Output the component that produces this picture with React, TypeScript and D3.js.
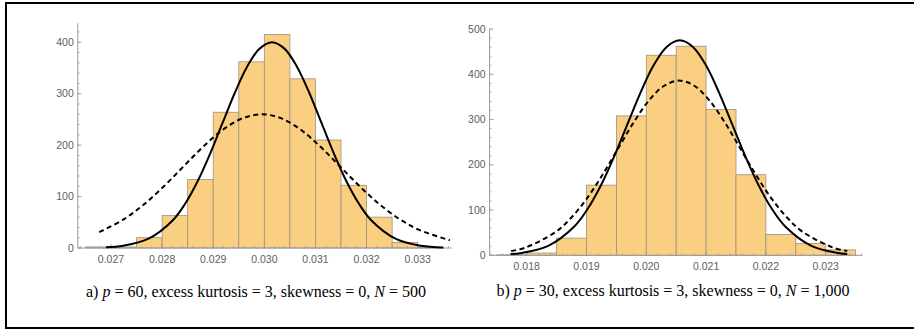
import React from 'react'
import * as d3 from 'd3'

// panel a) p = 60, N = 500
const leftBinEdges = [0.0265, 0.027, 0.0275, 0.028, 0.0285, 0.029, 0.0295, 0.030, 0.0305, 0.031, 0.0315, 0.032, 0.0325, 0.033, 0.0335]
const leftCounts = [2, 2, 20, 63, 133, 264, 362, 415, 329, 210, 122, 60, 11, 1]
const leftXTicks = [0.027, 0.028, 0.029, 0.030, 0.031, 0.032, 0.033]
const leftYTicks = [0, 100, 200, 300, 400]
const leftSolid: [number, number][] = [
  [0.0269, 1.5], [0.02724, 4.4], [0.027725, 17.6], [0.02821, 54.1], [0.028453, 86.5],
  [0.028695, 129.9], [0.028938, 183.1], [0.02918, 242.6], [0.029423, 301.9], [0.029665, 353.0],
  [0.029908, 387.7], [0.03015, 400], [0.030393, 387.7], [0.030635, 353.0], [0.030878, 301.9],
  [0.03112, 242.6], [0.031363, 183.1], [0.031605, 129.9], [0.031848, 86.5], [0.03209, 54.1],
  [0.032575, 17.6], [0.03306, 4.4], [0.0335, 1.0],
]
const leftDashed: [number, number][] = [
  [0.02677, 30.8], [0.027255, 56.2], [0.02764, 84.4], [0.028025, 119], [0.02841, 157.7],
  [0.028795, 196.2], [0.02918, 229.4], [0.029565, 252], [0.02995, 260], [0.030335, 252],
  [0.03072, 229.4], [0.031105, 196.2], [0.03149, 157.7], [0.031875, 119], [0.03226, 84.4],
  [0.032645, 56.2], [0.03303, 35.2], [0.03363, 15.0],
]

// panel b) p = 30, N = 1,000
const rightBinEdges = [0.0175, 0.018, 0.0185, 0.019, 0.0195, 0.020, 0.0205, 0.021, 0.0215, 0.022, 0.0225, 0.023, 0.0235]
const rightCounts = [1, 5, 38, 155, 308, 442, 462, 322, 178, 46, 26, 12]
const rightXTicks = [0.018, 0.019, 0.020, 0.021, 0.022, 0.023]
const rightYTicks = [0, 100, 200, 300, 400, 500]
const rightSolid: [number, number][] = [
  [0.01773, 2.7], [0.01792, 5.3], [0.01836, 20.9], [0.0188, 64.3], [0.01902, 102.7],
  [0.01924, 154.2], [0.01946, 217.5], [0.01968, 288.1], [0.0199, 358.5], [0.02012, 419.2],
  [0.02034, 460.4], [0.02056, 475], [0.02078, 460.4], [0.021, 419.2], [0.02122, 358.5],
  [0.02144, 288.1], [0.02166, 217.5], [0.02188, 154.2], [0.0221, 102.7], [0.02232, 64.3],
  [0.02276, 20.9], [0.0232, 5.3], [0.02336, 3.0],
]
const rightDashed: [number, number][] = [
  [0.01774, 9.4], [0.017975, 16.9], [0.01849, 52.2], [0.018748, 83.5], [0.019005, 125.3],
  [0.019263, 176.7], [0.01952, 234.1], [0.019778, 291.4], [0.020035, 340.6], [0.020293, 374.1],
  [0.02055, 386], [0.020808, 374.1], [0.021065, 340.6], [0.021323, 291.4], [0.02158, 234.1],
  [0.021838, 176.7], [0.022095, 125.3], [0.022353, 83.5], [0.02261, 52.2], [0.023125, 16.9],
  [0.02336, 9.4],
]

const axisColor = '#9a9a9a'
const labelColor = '#606060'
const barFill = '#fbcf82'
const barStroke = '#9c9280'

type PanelProps = {
  edges: number[]
  counts: number[]
  xTicks: number[]
  yTicks: number[]
  solid: [number, number][]
  dashed: [number, number][]
  xDomain: [number, number]
  xRange: [number, number]
  xExtent: [number, number]
  yDomain: [number, number]
  yRange: [number, number]
  yTop: number
  caption: { label: string; p: string; n: string }
  captionX: number
  captionY: number
}

const Panel = (props: PanelProps) => {
  const { edges, counts, xTicks, yTicks, solid, dashed, caption } = props
  const x = d3.scaleLinear().domain(props.xDomain).range(props.xRange)
  const y = d3.scaleLinear().domain(props.yDomain).range(props.yRange)
  const y0 = y(0)
  const xLeft = x(props.xExtent[0])
  const xRight = x(props.xExtent[1])

  const lineGen = d3.line<[number, number]>()
    .x(d => x(d[0]))
    .y(d => y(d[1]))
    .curve(d3.curveCatmullRom)

  // minor ticks (Mathematica style, 5 per major step)
  const xMinor = d3.range(Math.ceil(props.xExtent[0] / 0.0002), Math.floor(props.xExtent[1] / 0.0002) + 1)
    .map(i => i * 0.0002)
  const yMinor = d3.range(0, props.yTop + 0.1, 20)
  const fmt = d3.format('.3f')

  return (
    <g>
      {counts.map((c, i) => (
        <rect key={i}
          x={x(edges[i])} y={y(c)}
          width={x(edges[i + 1]) - x(edges[i])} height={y0 - y(c)}
          fill={barFill} stroke={barStroke} strokeWidth={0.8} />
      ))}

      {/* axes */}
      <line x1={xLeft} x2={xRight} y1={y0} y2={y0} stroke={axisColor} strokeWidth={1} />
      <line x1={xLeft} x2={xLeft} y1={y0} y2={y(props.yTop)} stroke={axisColor} strokeWidth={1} />
      {xMinor.map((v, i) => (
        <line key={'xm' + i} x1={x(v)} x2={x(v)} y1={y0} y2={y0 - 2} stroke={axisColor} strokeWidth={0.7} />
      ))}
      {xTicks.map(v => (
        <g key={'xt' + v}>
          <line x1={x(v)} x2={x(v)} y1={y0} y2={y0 - 4} stroke={axisColor} strokeWidth={0.8} />
          <text x={x(v)} y={y0 + 15} textAnchor='middle' fontSize={10.5}
            fontFamily='Liberation Sans, Arial, sans-serif' fill={labelColor}>{fmt(v)}</text>
        </g>
      ))}
      {yMinor.map((v, i) => (
        <line key={'ym' + i} x1={xLeft} x2={xLeft + 2} y1={y(v)} y2={y(v)} stroke={axisColor} strokeWidth={0.7} />
      ))}
      {yTicks.map(v => (
        <g key={'yt' + v}>
          <line x1={xLeft} x2={xLeft + 4} y1={y(v)} y2={y(v)} stroke={axisColor} strokeWidth={0.8} />
          <text x={xLeft - 4} y={y(v) + 3.6} textAnchor='end' fontSize={10.5}
            fontFamily='Liberation Sans, Arial, sans-serif' fill={labelColor}>{v}</text>
        </g>
      ))}

      <path d={lineGen(dashed) || ''} fill='none' stroke='black' strokeWidth={2} strokeDasharray='5,3.5' />
      <path d={lineGen(solid) || ''} fill='none' stroke='black' strokeWidth={2} />

      <text x={props.captionX} y={props.captionY} textAnchor='middle' fontSize={16}
        fontFamily='Liberation Serif, Times New Roman, serif' fill='black'>
        {caption.label + ' '}
        <tspan fontStyle='italic'>p</tspan>
        {' = ' + caption.p + ', excess kurtosis = 3, skewness = 0, '}
        <tspan fontStyle='italic'>N</tspan>
        {' = ' + caption.n}
      </text>
    </g>
  )
}

export default function App() {
  return (
    <div style={{ position: 'fixed', left: 0, top: 0 }}>
      <svg width={914} height={329} style={{ display: 'block', background: 'white' }}>
        <rect x={6} y={3} width={1000} height={325} fill='white' stroke='black' strokeWidth={2} />
        <Panel
          edges={leftBinEdges} counts={leftCounts} xTicks={leftXTicks} yTicks={leftYTicks}
          solid={leftSolid} dashed={leftDashed}
          xDomain={[0.027, 0.033]} xRange={[111, 417.7]} xExtent={[0.02635, 0.033665]}
          yDomain={[0, 400]} yRange={[248, 42.3]} yTop={437}
          caption={{ label: 'a)', p: '60', n: '500' }} captionX={256} captionY={297}
        />
        <Panel
          edges={rightBinEdges} counts={rightCounts} xTicks={rightXTicks} yTicks={rightYTicks}
          solid={rightSolid} dashed={rightDashed}
          xDomain={[0.018, 0.023]} xRange={[526.7, 825.7]} xExtent={[0.01738, 0.02361]}
          yDomain={[0, 500]} yRange={[255.3, 29]} yTop={500}
          caption={{ label: 'b)', p: '30', n: '1,000' }} captionX={673} captionY={296}
        />
      </svg>
    </div>
  )
}
